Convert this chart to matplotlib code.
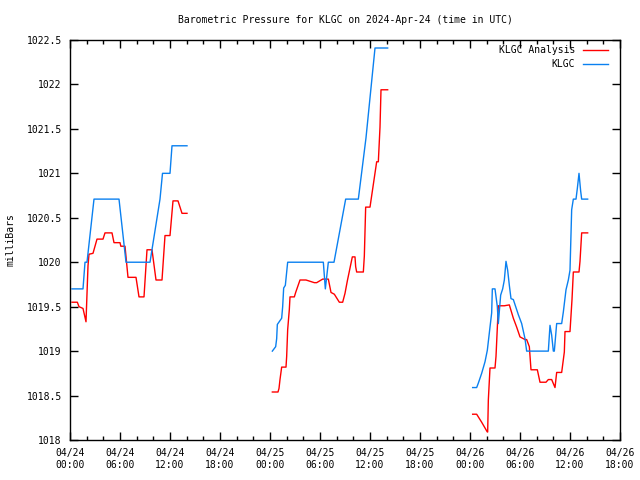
#! /usr/bin/env python
# -*- coding: utf-8 -*-

import numpy as np
from matplotlib import pyplot as plt

# hours since 2024-04-24 00:00 UTC
# KLGC observations (blue), three chunks
obs_t1 = [0.24, 1.56, 1.8, 2.04, 2.88, 5.88, 6.72, 9.6, 10.8, 11.1, 12.0, 12.24, 14.04]
obs_p1 = [1019.70, 1019.70, 1020.00, 1020.00, 1020.71, 1020.71, 1020.00, 1020.00,
          1020.71, 1021.00, 1021.00, 1021.31, 1021.31]
obs_t2 = [24.28, 24.68, 24.8, 24.88, 25.4, 25.52, 25.64, 25.84, 26.12, 26.32, 30.4,
          30.64, 31.0, 31.68, 33.08, 34.6, 35.52, 36.6, 38.12]
obs_p2 = [1019.00, 1019.05, 1019.14, 1019.30, 1019.37, 1019.50, 1019.71, 1019.74,
          1020.00, 1020.00, 1020.00, 1019.70, 1020.00, 1020.00, 1020.71, 1020.71,
          1021.40, 1022.41, 1022.41]
obs_t3 = [48.32, 48.8, 49.0, 49.4, 49.8, 50.08, 50.4, 50.6, 50.68, 51.0, 51.28, 51.4,
          51.68, 51.92, 52.12, 52.32, 52.52, 52.72, 52.92, 53.2, 53.8, 54.2, 54.6,
          54.8, 57.4, 57.6, 57.8, 58.0, 58.12, 58.4, 59.0, 59.2, 59.52, 59.8, 60.0,
          60.2, 60.4, 60.72, 60.88, 61.08, 61.28, 61.4, 62.12]
obs_p3 = [1018.59, 1018.59, 1018.64, 1018.75, 1018.88, 1019.01, 1019.27, 1019.43,
          1019.70, 1019.70, 1019.50, 1019.31, 1019.63, 1019.70, 1019.80, 1020.01,
          1019.91, 1019.74, 1019.59, 1019.58, 1019.41, 1019.31, 1019.14, 1019.00,
          1019.00, 1019.29, 1019.18, 1019.00, 1019.00, 1019.31, 1019.31, 1019.44,
          1019.69, 1019.80, 1019.91, 1020.59, 1020.71, 1020.71, 1020.83, 1021.00,
          1020.80, 1020.71, 1020.71]

# KLGC analysis (red), three chunks
ana_t1 = [0.24, 0.88, 1.08, 1.56, 1.92, 2.16, 2.28, 2.76, 3.24, 3.96, 4.2, 5.04, 5.28,
          6.0, 6.1, 6.6, 6.96, 7.92, 8.28, 8.88, 9.24, 9.84, 10.32, 11.04, 11.4, 12.0,
          12.36, 12.96, 13.44, 14.04]
ana_p1 = [1019.55, 1019.55, 1019.50, 1019.48, 1019.33, 1019.96, 1020.09, 1020.10,
          1020.26, 1020.26, 1020.33, 1020.33, 1020.22, 1020.22, 1020.18, 1020.18,
          1019.83, 1019.83, 1019.61, 1019.61, 1020.14, 1020.14, 1019.80, 1019.80,
          1020.30, 1020.30, 1020.69, 1020.69, 1020.55, 1020.55]
ana_t2 = [24.28, 24.96, 25.08, 25.2, 25.4, 25.92, 26.0, 26.12, 26.32, 26.4, 26.92,
          27.08, 27.6, 28.32, 29.32, 29.6, 30.32, 31.0, 31.32, 31.72, 32.32, 32.72,
          33.0, 33.28, 33.88, 34.2, 34.28, 34.4, 35.2, 35.32, 35.48, 36.0, 36.8, 37.0,
          37.2, 37.32, 38.12]
ana_p2 = [1018.54, 1018.54, 1018.58, 1018.68, 1018.82, 1018.82, 1018.94, 1019.24,
          1019.47, 1019.61, 1019.61, 1019.66, 1019.80, 1019.80, 1019.77, 1019.77,
          1019.81, 1019.81, 1019.66, 1019.64, 1019.55, 1019.55, 1019.65, 1019.79,
          1020.06, 1020.06, 1019.95, 1019.89, 1019.89, 1020.07, 1020.62, 1020.62,
          1021.13, 1021.13, 1021.52, 1021.94, 1021.94]
ana_t3 = [48.32, 48.8, 49.4, 50.08, 50.12, 50.2, 50.4, 51.0, 51.12, 51.4, 52.12, 52.72,
          53.2, 53.6, 54.0, 54.6, 54.8, 55.12, 55.32, 56.08, 56.4, 57.12, 57.4, 57.8,
          58.2, 58.4, 59.0, 59.32, 59.4, 60.0, 60.24, 60.4, 61.08, 61.2, 61.4, 62.12]
ana_p3 = [1018.29, 1018.29, 1018.20, 1018.09, 1018.09, 1018.45, 1018.81, 1018.81,
          1018.94, 1019.51, 1019.51, 1019.52, 1019.37, 1019.27, 1019.16, 1019.13,
          1019.13, 1019.05, 1018.79, 1018.79, 1018.65, 1018.65, 1018.68, 1018.68,
          1018.59, 1018.76, 1018.76, 1018.99, 1019.22, 1019.22, 1019.58, 1019.89,
          1019.89, 1020.01, 1020.33, 1020.33]

tick_hours = list(range(0, 67, 6))
tick_labels = ["04/24\n00:00", "04/24\n06:00", "04/24\n12:00", "04/24\n18:00",
               "04/25\n00:00", "04/25\n06:00", "04/25\n12:00", "04/25\n18:00",
               "04/26\n00:00", "04/26\n06:00", "04/26\n12:00", "04/26\n18:00"]

plt.rcParams['font.family'] = 'DejaVu Sans Mono'
plt.rcParams['font.size'] = 7

red = '#ff0000'
blue = '#0a80f0'

fig = plt.figure(figsize=(6.4, 4.8), dpi=100)
ax = fig.add_axes([70 / 640, 40 / 480, 550 / 640, 400 / 480])

ax.plot(ana_t1, ana_p1, color=red, lw=1.0, label="KLGC Analysis")
ax.plot(ana_t2, ana_p2, color=red, lw=1.0)
ax.plot(ana_t3, ana_p3, color=red, lw=1.0)
ax.plot(obs_t1, obs_p1, color=blue, lw=1.0, label="KLGC")
ax.plot(obs_t2, obs_p2, color=blue, lw=1.0)
ax.plot(obs_t3, obs_p3, color=blue, lw=1.0)

ax.set_xlim(0, 66)
ax.set_ylim(1018, 1022.5)
ax.set_xticks(tick_hours)
ax.set_xticklabels(tick_labels)
ax.set_xticks(np.arange(0, 67, 2), minor=True)
ax.set_yticks(np.arange(1018, 1022.51, 0.5))
ax.set_yticklabels(["1018", "1018.5", "1019", "1019.5", "1020", "1020.5",
                    "1021", "1021.5", "1022", "1022.5"])
ax.tick_params(which='both', direction='in', top=True, right=True, width=1)
ax.tick_params(which='major', length=6, pad=6)
ax.tick_params(which='minor', length=3)
for s in ax.spines.values():
    s.set_linewidth(1.0)

plt.title("Barometric Pressure for KLGC on 2024-Apr-24 (time in UTC)", fontsize=7, pad=12)
plt.ylabel("milliBars", labelpad=8)
ax.legend(loc='upper right', bbox_to_anchor=(0.9855, 0.997), frameon=False,
          markerfirst=False, handlelength=2.6, borderaxespad=0.0,
          labelspacing=0.45, handletextpad=0.8)

fig.savefig("out.png")
